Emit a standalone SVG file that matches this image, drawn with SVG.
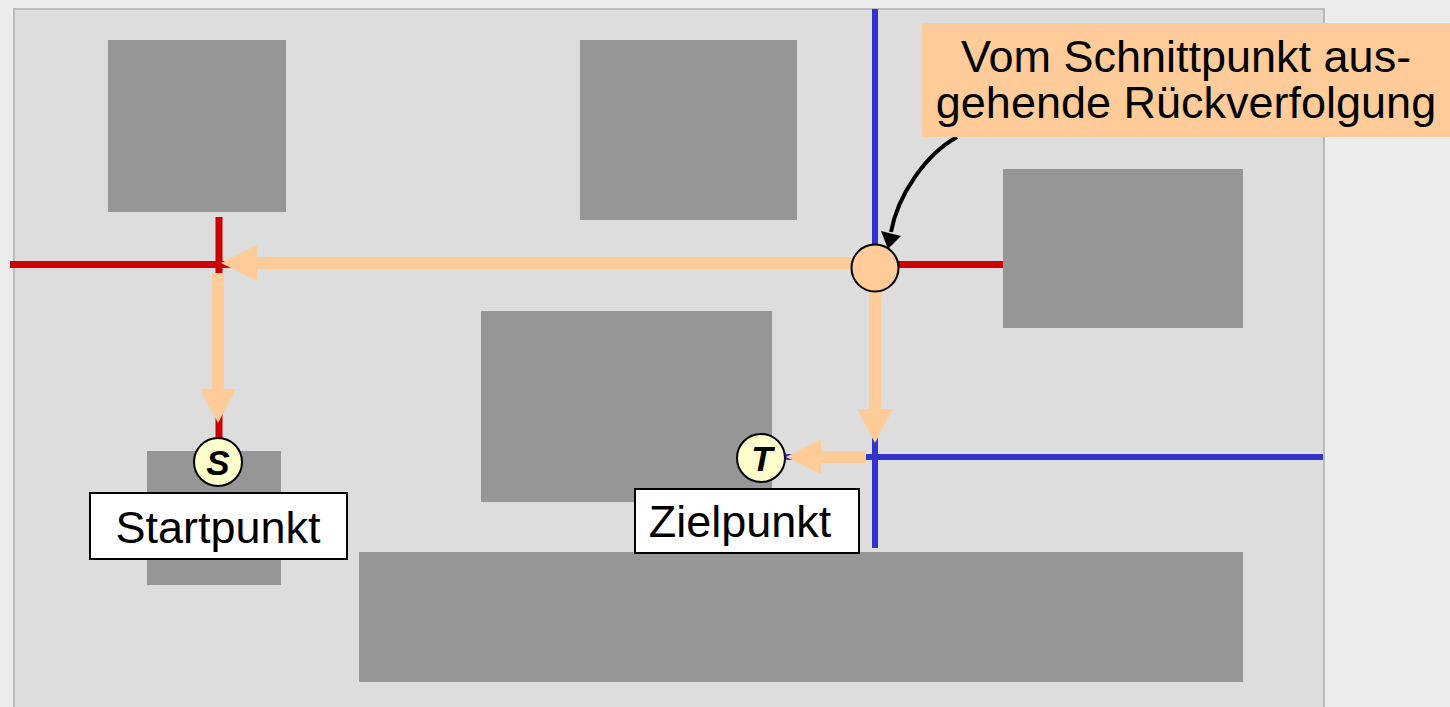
<svg xmlns="http://www.w3.org/2000/svg" width="1450" height="707" viewBox="0 0 1450 707">
<style>
.blk{fill:#969696}
.red{stroke:#cc0000;stroke-width:7;fill:none}
.blue{stroke:#3333cc;stroke-width:6;fill:none}
.org{fill:#ffcc99}
.txt{font-family:"Liberation Sans",Arial,sans-serif;font-size:45px;fill:#000}
.pt{fill:#ffffcc;stroke:#000;stroke-width:2}
.ptl{font-family:"Liberation Sans",Arial,sans-serif;font-size:35px;font-weight:bold;font-style:italic;text-anchor:middle}
</style>
<rect width="1450" height="707" fill="#ececec"/>
<rect x="14" y="9" width="1310" height="720" fill="#dddddd" stroke="#bbbbbb" stroke-width="2"/>
<g id="obstacles">
<rect class="blk" x="108" y="40" width="178" height="172"/>
<rect class="blk" x="580" y="40" width="217" height="180"/>
<rect class="blk" x="1003" y="169" width="240" height="159"/>
<rect class="blk" x="481" y="311" width="291" height="191"/>
<rect class="blk" x="147" y="451" width="134" height="134"/>
<rect class="blk" x="359" y="552" width="884" height="130"/>
</g>
<g id="connectors">
<line class="red" x1="10" y1="264.5" x2="1003" y2="264.5"/>
<line class="red" x1="219" y1="217" x2="219" y2="440" stroke-width="6"/>
<line class="blue" x1="875" y1="9" x2="875" y2="548"/>
<line class="blue" x1="786" y1="457" x2="1323" y2="457"/>
<rect class="org" x="257" y="257" width="596" height="12"/>
<polygon class="org" points="221,263 257,245 257,281"/>
<rect class="org" x="212" y="273" width="12" height="116"/>
<polygon class="org" points="200,389 236,389 218,423"/>
<rect class="org" x="869" y="290" width="12" height="119"/>
<polygon class="org" points="857,409 893,409 875,443"/>
<rect class="org" x="821" y="451" width="45" height="12"/>
<polygon class="org" points="821,439 821,474 786,457"/>
<path d="M957 137 C925 155 898 195 891 232" fill="none" stroke="#000" stroke-width="4"/>
<polygon points="881,231 901,236 888,249" fill="#000"/>
</g>
<g id="intersection">
<circle cx="875" cy="268" r="23.5" fill="#ffcc99" stroke="#000" stroke-width="2"/>
</g>
<g id="label">
<rect x="922" y="23" width="528" height="114" fill="#ffcc99"/>
<text class="txt" x="1186" y="72" text-anchor="middle">Vom Schnittpunkt aus-</text>
<text class="txt" x="1186" y="118" text-anchor="middle">gehende Rückverfolgung</text>
</g>
<g id="start">
<circle class="pt" cx="218" cy="462" r="24"/>
<text class="ptl" x="218" y="475">S</text>
<rect x="90" y="493" width="257" height="66" fill="#fff" stroke="#000" stroke-width="2"/>
<text class="txt" x="218" y="543" text-anchor="middle">Startpunkt</text>
</g>
<g id="target">
<circle class="pt" cx="761" cy="458" r="24"/>
<text class="ptl" x="762" y="471">T</text>
<rect x="635" y="489" width="224" height="64" fill="#fff" stroke="#000" stroke-width="2"/>
<text class="txt" x="740" y="537" text-anchor="middle">Zielpunkt</text>
</g>
</svg>
